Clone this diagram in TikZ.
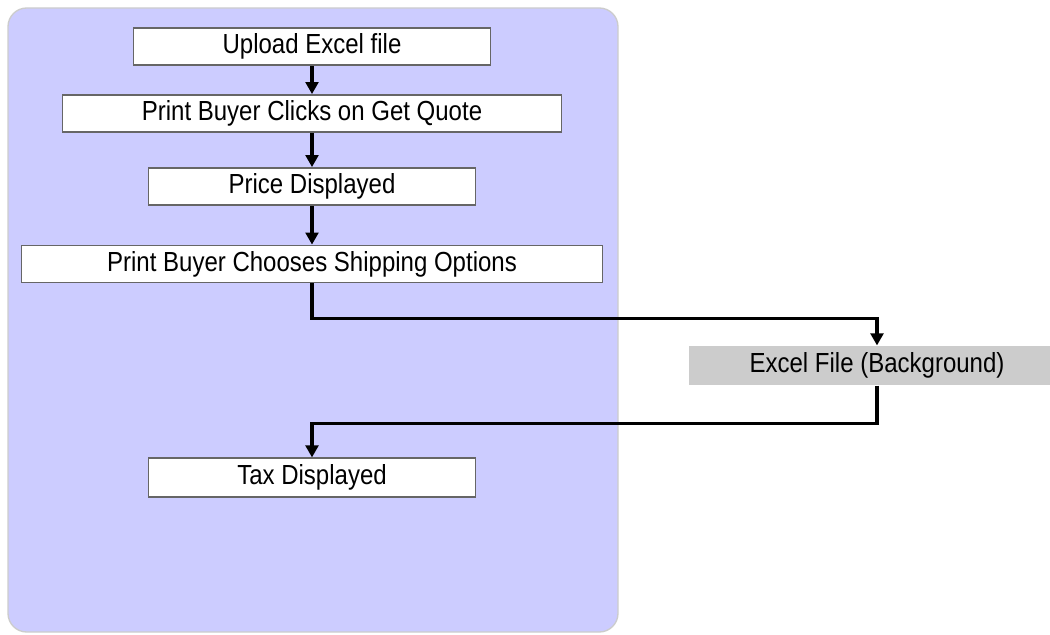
\documentclass[tikz,border=0pt]{standalone}
\usepackage{fontspec}
\setmainfont{Liberation Sans}[FakeStretch=0.87]
\usetikzlibrary{arrows.meta,positioning,calc}
\definecolor{panel}{RGB}{204,204,255}
\definecolor{bgfile}{RGB}{204,204,204}

\tikzset{
  stepbox/.style={draw=black!60,fill=white,line width=1.1pt,inner sep=0pt,
    minimum height=28pt,font=\fontsize{20.7}{23}\selectfont},
  flow/.style={line width=2.8pt,-{Triangle[length=9pt,width=9.5pt]}}
}

\begin{document}
\begin{tikzpicture}[x=0.75pt,y=-0.75pt]
    \useasboundingbox (0,0) rectangle (1050,635);
    % lilac panel behind the steps
    \draw[draw=black!20,fill=panel,line width=1pt,rounded corners=14pt] (8,8) rectangle (618,632);

    \node[stepbox,minimum width=268pt] (upload) at (312,46.5) {Upload Excel file};
    \node[stepbox,minimum width=374pt] (quote) at (312,113.5) {Print Buyer Clicks on Get Quote};
    \node[stepbox,minimum width=245pt] (price) at (312,186.5) {Price Displayed};
    \node[stepbox,minimum width=436pt] (ship) at (312,264) {Print Buyer Chooses Shipping Options};
    \node[stepbox,draw=none,fill=bgfile,minimum width=282pt,minimum height=29pt] (excel) at (877,365.5) {Excel File (Background)};
    \node[stepbox,minimum width=245pt,minimum height=29pt] (tax) at (312,477.5) {Tax Displayed};

    \draw[flow] (upload) -- (quote);
    \draw[flow] (quote) -- (price);
    \draw[flow] (price) -- (ship);
    \draw[flow] (ship.south) -- ++(0,35) -| (excel.north);
    \draw[flow] (excel.south) -- ++(0,38) -| (tax.north);
\end{tikzpicture}
\end{document}
